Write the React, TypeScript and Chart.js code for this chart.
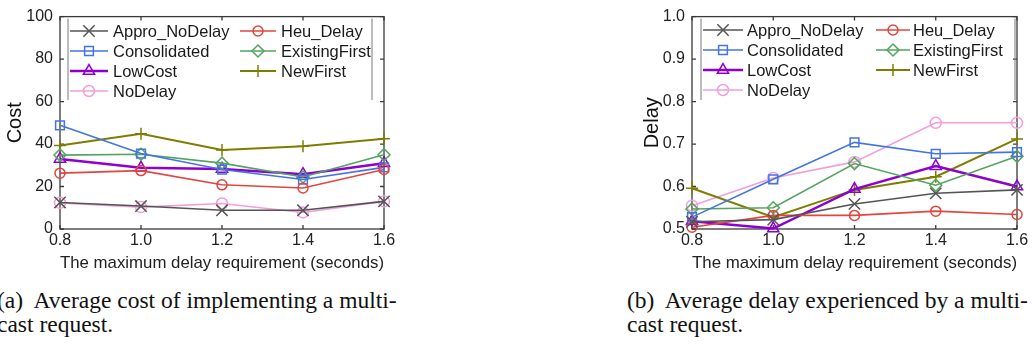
import React, { useEffect, useRef } from 'react';
import { Chart, registerables } from 'chart.js';

Chart.register(...registerables);

// ---------- data ----------
const xLabels = ['0.8', '1.0', '1.2', '1.4', '1.6'];
const seriesNames = ['Appro_NoDelay', 'Heu_Delay', 'Consolidated', 'ExistingFirst', 'LowCost', 'NewFirst', 'NoDelay'];

// (a) cost
const costApproNoDelay = [12.5, 10.8, 8.8, 8.8, 13];
const costHeuDelay = [26.3, 27.5, 20.8, 19.3, 28];
const costConsolidated = [48.8, 35.5, 28, 23.3, 29];
const costExistingFirst = [34.8, 35.2, 31, 24.5, 35];
const costLowCost = [33, 28.8, 28.3, 25.8, 31];
const costNewFirst = [39.3, 44.8, 37.2, 39, 42.5];
const costNoDelay = [12.3, 10.3, 12, 7.8, 13];

// (b) delay
const delayApproNoDelay = [0.517, 0.522, 0.559, 0.584, 0.592];
const delayHeuDelay = [0.504, 0.532, 0.532, 0.542, 0.534];
const delayConsolidated = [0.528, 0.617, 0.704, 0.677, 0.681];
const delayExistingFirst = [0.547, 0.55, 0.654, 0.603, 0.671];
const delayLowCost = [0.518, 0.501, 0.594, 0.648, 0.6];
const delayNewFirst = [0.596, 0.528, 0.592, 0.623, 0.712];
const delayNoDelay = [0.555, 0.62, 0.658, 0.75, 0.75];

const costTicks = { min: 0, max: 100, step: 20, decimals: 0 };
const delayTicks = { min: 0.5, max: 1.0, step: 0.1, decimals: 1 };

const xTitle = 'The maximum delay requirement (seconds)';
const captionA = '(a)  Average cost of implementing a multi-\ncast request.';
const captionB = '(b)  Average delay experienced by a multi-\ncast request.';

// ---------- styles ----------
const seriesStyles = [
  { color: '#555555', lw: 1.6, style: 'crossRot', r: 8 },
  { color: '#e2453f', lw: 1.6, style: 'circle', r: 5 },
  { color: '#4474e0', lw: 1.6, style: 'rect', r: 6.2 },
  { color: '#52a45e', lw: 1.6, style: 'rectRot', r: 6 },
  { color: '#8d00cf', lw: 2.5, style: 'triangle', r: 6.5 },
  { color: '#7f7d00', lw: 2, style: 'cross', r: 6 },
  { color: '#f09fda', lw: 1.6, style: 'circle', r: 5.5 },
];

const SANS = '"Liberation Sans", Arial, sans-serif';

function drawMarker(ctx: CanvasRenderingContext2D, style: string, x: number, y: number, r: number) {
  ctx.beginPath();
  if (style === 'circle') {
    ctx.arc(x, y, r, 0, Math.PI * 2);
  } else if (style === 'rect') {
    const s = Math.SQRT1_2 * r;
    ctx.rect(x - s, y - s, 2 * s, 2 * s);
  } else if (style === 'rectRot') {
    ctx.moveTo(x, y - r);
    ctx.lineTo(x + r, y);
    ctx.lineTo(x, y + r);
    ctx.lineTo(x - r, y);
    ctx.closePath();
  } else if (style === 'triangle') {
    let a = 0;
    ctx.moveTo(x + Math.sin(a) * r, y - Math.cos(a) * r);
    a += (2 * Math.PI) / 3;
    ctx.lineTo(x + Math.sin(a) * r, y - Math.cos(a) * r);
    a += (2 * Math.PI) / 3;
    ctx.lineTo(x + Math.sin(a) * r, y - Math.cos(a) * r);
    ctx.closePath();
  } else if (style === 'cross') {
    ctx.moveTo(x, y - r);
    ctx.lineTo(x, y + r);
    ctx.moveTo(x - r, y);
    ctx.lineTo(x + r, y);
  } else if (style === 'crossRot') {
    const d = Math.SQRT1_2 * r;
    ctx.moveTo(x - d, y - d);
    ctx.lineTo(x + d, y + d);
    ctx.moveTo(x + d, y - d);
    ctx.lineTo(x - d, y + d);
  }
  ctx.stroke();
}

const frameTicksPlugin = {
  id: 'frameTicks',
  beforeDatasetsDraw(chart: any) {
    const { ctx, chartArea, scales } = chart;
    const { left, right, top, bottom } = chartArea;
    ctx.save();
    ctx.strokeStyle = '#3a3a3a';
    ctx.lineWidth = 1.3;
    ctx.strokeRect(left, top, right - left, bottom - top);
    const tl = 4;
    ctx.beginPath();
    scales.x.ticks.forEach((_: any, i: number) => {
      const px = scales.x.getPixelForTick(i);
      ctx.moveTo(px, top);
      ctx.lineTo(px, top + tl);
      ctx.moveTo(px, bottom);
      ctx.lineTo(px, bottom - tl);
    });
    scales.y.ticks.forEach((_: any, i: number) => {
      const py = scales.y.getPixelForTick(i);
      ctx.moveTo(left, py);
      ctx.lineTo(left + tl, py);
      ctx.moveTo(right, py);
      ctx.lineTo(right - tl, py);
    });
    ctx.stroke();
    ctx.restore();
  },
};

const boxLegendPlugin = {
  id: 'boxLegend',
  afterDatasetsDraw(chart: any, _args: any, opts: any) {
    if (!opts || !opts.cols) return;
    const { ctx, chartArea } = chart;
    ctx.save();
    ctx.strokeStyle = '#7a7a7a';
    ctx.lineWidth = 1;
    ctx.beginPath();
    ctx.moveTo(opts.boxLeft, chartArea.top + 2);
    ctx.lineTo(opts.boxLeft, opts.boxBottom);
    ctx.moveTo(opts.boxRight, chartArea.top + 2);
    ctx.lineTo(opts.boxRight, opts.boxBottom);
    ctx.stroke();
    ctx.font = `16.5px ${SANS}`;
    ctx.textBaseline = 'middle';
    ctx.textAlign = 'left';
    chart.data.datasets.forEach((ds: any, i: number) => {
      const col = opts.cols[i % 2];
      const y = opts.rows[Math.floor(i / 2)];
      ctx.strokeStyle = ds.borderColor;
      ctx.lineWidth = ds.borderWidth;
      ctx.beginPath();
      ctx.moveTo(col.l0, y);
      ctx.lineTo(col.l1, y);
      ctx.stroke();
      ctx.lineWidth = ds.pointBorderWidth;
      drawMarker(ctx, ds.pointStyle, (col.l0 + col.l1) / 2, y, ds.pointRadius);
      ctx.fillStyle = '#1a1a1a';
      ctx.fillText(ds.label, col.t, y + 1);
    });
    ctx.restore();
  },
};

function buildDatasets(values: number[][]) {
  return values.map((vals, i) => {
    const s = seriesStyles[i];
    return {
      label: seriesNames[i],
      data: vals,
      borderColor: s.color,
      backgroundColor: 'rgba(0,0,0,0)',
      pointBackgroundColor: 'rgba(0,0,0,0)',
      pointBorderColor: s.color,
      borderWidth: s.lw,
      pointBorderWidth: 1.5,
      pointStyle: s.style,
      pointRadius: s.r,
      pointHoverRadius: s.r,
      tension: 0,
      clip: false,
    };
  });
}

type PanelProps = {
  left: number;
  width: number;
  height: number;
  values: number[][];
  ticks: { min: number; max: number; step: number; decimals: number };
  yTitle: string;
  yAxisW: number;
  yTitlePad: number;
  padRight: number;
  legend: any;
};

function Panel(p: PanelProps) {
  const ref = useRef<HTMLCanvasElement | null>(null);
  useEffect(() => {
    if (!ref.current) return;
    const chart = new Chart(ref.current, {
      type: 'line',
      data: { labels: xLabels, datasets: buildDatasets(p.values) as any },
      options: {
        responsive: false,
        animation: false,
        devicePixelRatio: 1,
        layout: { padding: { top: 13, right: p.padRight, left: 0, bottom: 0 } },
        plugins: {
          legend: { display: false },
          tooltip: { enabled: false },
          boxLegend: p.legend,
        } as any,
        scales: {
          x: {
            type: 'category',
            offset: false,
            grid: { display: false, drawTicks: false },
            border: { display: false },
            ticks: {
              padding: 2,
              color: '#222',
              font: { family: SANS, size: 16 },
              maxRotation: 0,
              autoSkip: false,
            },
            title: {
              display: true,
              text: xTitle,
              color: '#222',
              font: { family: SANS, size: 17 },
              padding: { top: 0, bottom: 4.8 },
            },
            afterFit: (s: any) => {
              s.height = p.height - 229;
            },
          },
          y: {
            type: 'linear',
            min: p.ticks.min,
            max: p.ticks.max,
            grid: { display: false, drawTicks: false },
            border: { display: false },
            ticks: {
              stepSize: p.ticks.step,
              padding: 7,
              color: '#222',
              font: { family: SANS, size: 16 },
              callback: (v: any) => Number(v).toFixed(p.ticks.decimals),
            },
            title: {
              display: true,
              text: p.yTitle,
              color: '#111',
              font: { family: SANS, size: 20 },
              padding: { top: p.yTitlePad, bottom: 0 },
            },
            afterFit: (s: any) => {
              s.width = p.yAxisW;
            },
          },
        },
      } as any,
      plugins: [frameTicksPlugin, boxLegendPlugin],
    });
    return () => chart.destroy();
  }, []);
  return (
    <canvas
      ref={ref}
      width={p.width}
      height={p.height}
      style={{ position: 'absolute', left: p.left, top: 0, width: p.width, height: p.height, display: 'block' }}
    />
  );
}

const captionStyle: React.CSSProperties = {
  position: 'absolute',
  top: 288,
  fontFamily: '"Liberation Serif", "Times New Roman", serif',
  fontSize: 23.5,
  lineHeight: '24px',
  whiteSpace: 'pre',
  color: '#111',
};

export default function App() {
  return (
    <div
      style={{
        position: 'fixed',
        left: 0,
        top: 0,
        width: 1032,
        height: 344,
        background: '#fff',
        overflow: 'hidden',
      }}
    >
      <Panel
        left={0}
        width={400}
        height={278}
        values={[costApproNoDelay, costHeuDelay, costConsolidated, costExistingFirst, costLowCost, costNewFirst, costNoDelay]}
        ticks={costTicks}
        yTitle="Cost"
        yAxisW={60}
        yTitlePad={3}
        padRight={16}
        legend={{
          boxLeft: 68,
          boxRight: 372,
          boxBottom: 100,
          rows: [31, 51, 71, 91],
          cols: [
            { l0: 70, l1: 108, t: 113 },
            { l0: 240, l1: 276, t: 281 },
          ],
        }}
      />
      <Panel
        left={620}
        width={412}
        height={278}
        values={[delayApproNoDelay, delayHeuDelay, delayConsolidated, delayExistingFirst, delayLowCost, delayNewFirst, delayNoDelay]}
        ticks={delayTicks}
        yTitle="Delay"
        yAxisW={72}
        yTitlePad={20.5}
        padRight={15}
        legend={{
          boxLeft: 81,
          boxRight: 395,
          boxBottom: 100,
          rows: [30, 50, 70, 90],
          cols: [
            { l0: 83, l1: 123, t: 127 },
            { l0: 256, l1: 290, t: 293 },
          ],
        }}
      />
      <div style={{ ...captionStyle, left: -3 }}>{captionA}</div>
      <div style={{ ...captionStyle, left: 627 }}>{captionB}</div>
    </div>
  );
}
